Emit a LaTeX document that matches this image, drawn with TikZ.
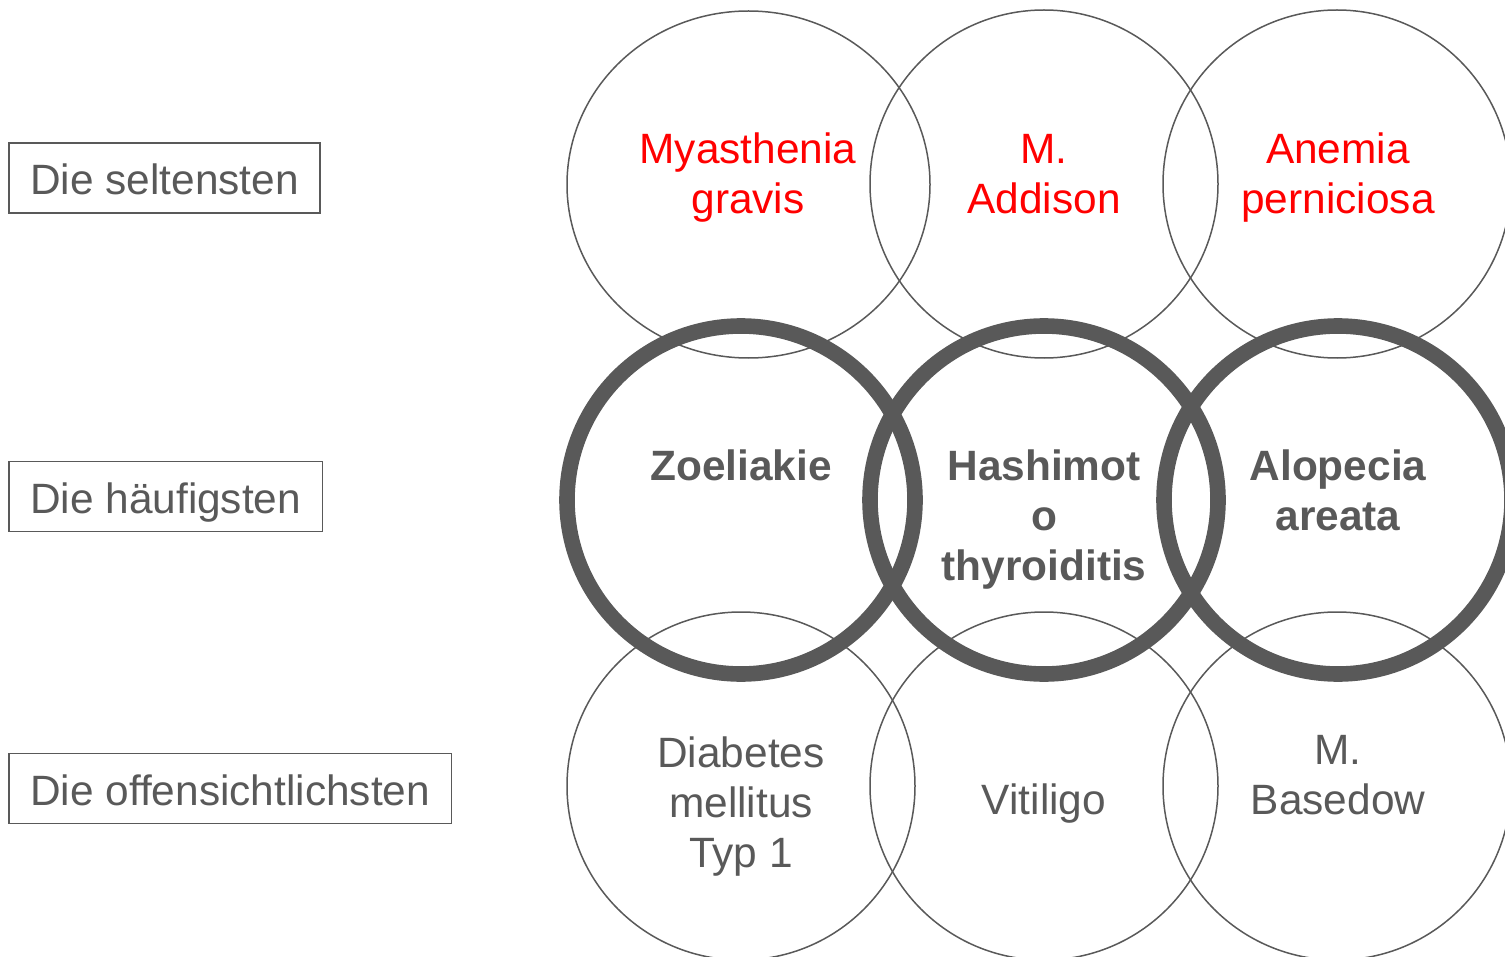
\documentclass[tikz,border=0pt]{standalone}
\usepackage{fontspec}
\setmainfont{Liberation Sans}
\definecolor{dgray}{RGB}{89,89,89}
\definecolor{myred}{RGB}{255,0,0}
\tikzset{
  ring/.style={draw=dgray, line width=0.75pt},
  thickring/.style={draw=dgray, line width=7.8pt},
  disease/.style={anchor=base, align=center, inner sep=0pt,
    font=\fontsize{21.2}{25}\selectfont},
  rare/.style={disease, text=myred},
  common/.style={disease, text=dgray, font=\fontsize{21.2}{25}\selectfont\bfseries},
  obvious/.style={disease, text=dgray},
  rowlabel/.style={draw=dgray, line width=0.75pt, anchor=west, text=dgray,
    font=\fontsize{21.2}{25}\selectfont, inner xsep=10.7pt,
    minimum height=35pt, text height=19pt, text depth=2pt}
}
\begin{document}
\begin{tikzpicture}[x=0.5pt, y=-0.5pt]
  \clip (0,0) rectangle (1505,957);
  \useasboundingbox (0,0) rectangle (1505,957);
  % row labels
  \node[rowlabel] (selten) at (8,178) {Die seltensten};
  \node[rowlabel] (haeufig) at (8,496.5) {Die häufigsten};
  \node[rowlabel] (offen) at (8,788.5) {Die offensichtlichsten};
  % thin circles, top and bottom row
  \draw[ring] (748.5,184.5) ellipse (181.5 and 173.5);
  \draw[ring] (1044,184) circle (174);
  \draw[ring] (1337,184) circle (174);
  \draw[ring] (741,786) circle (174);
  \draw[ring] (1044,786) circle (174);
  \draw[ring] (1337,786) circle (174);
  % thick circles, middle row
  \draw[thickring] (741,500) circle (174);
  \draw[thickring] (1044,500) circle (174);
  \draw[thickring] (1338,500) circle (174);
  % texts (base = last line)
  \node[rare] (myas) at (748,214) {Myasthenia\\gravis};
  \node[rare] (addison) at (1044,214) {M.\\Addison};
  \node[rare] (anemia) at (1338,214) {Anemia\\perniciosa};
  \node[common] (zoel) at (741,480) {Zoeliakie};
  \node[common] (hashi) at (1044,580) {Hashimot\\o\\thyroiditis};
  \node[common] (alop) at (1338,530) {Alopecia\\areata};
  \node[obvious] (diab) at (741,867) {Diabetes\\mellitus\\Typ 1};
  \node[obvious] (vitil) at (1044,814) {Vitiligo};
  \node[obvious] (basedow) at (1338,814) {M.\\Basedow};
\end{tikzpicture}
\end{document}
